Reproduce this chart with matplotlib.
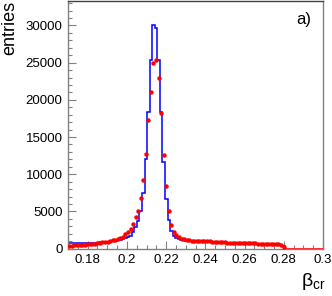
import numpy as np
import matplotlib
matplotlib.use("Agg")
import matplotlib.pyplot as plt
from matplotlib.ticker import MultipleLocator

plt.rcParams["font.family"] = ["Liberation Sans", "DejaVu Sans"]
plt.rcParams["mathtext.fontset"] = "custom"
plt.rcParams["mathtext.rm"] = "Liberation Sans"
plt.rcParams["mathtext.it"] = "Liberation Sans"

# histogram binning: 100 bins between 0.17 and 0.30
n_bins = 100
x_lo = 0.17
x_hi = 0.30

# blue histogram (simulation)
blue_counts = [
    700, 710, 720, 730, 740, 750, 760, 770, 780, 790, 800,
    810, 830, 850, 870, 900, 940, 990, 1050, 1120, 1200,
    1300, 1450, 1600, 1750, 2200, 2900, 3700, 5000, 7500, 12000,
    18400, 25300, 30000, 29700, 25300, 18300, 11600, 6700, 3800, 2400,
    1750, 1400, 1250, 1170, 1120, 1080, 1050, 1030, 1010, 1000,
    990, 970, 960, 940, 920, 900, 880, 860, 840, 820,
    800, 790, 780, 770, 760, 750, 740, 730, 720, 710,
    690, 680, 670, 660, 650, 640, 630, 620, 610, 600,
    590, 570, 540, 320,
    0, 0, 0, 0, 0, 0, 0, 0, 0, 0, 0, 0, 0, 0, 0,
]

# red points (data)
red_counts = [
    400, 420, 440, 460, 480, 500, 530, 560, 590, 630, 680,
    740, 800, 850, 900, 940, 1030, 1120, 1210, 1340, 1430,
    1600, 1970, 2200, 2600, 3320, 4300, 5000, 6800, 9200, 12760,
    17300, 21000, 24900, 25300, 23000, 18200, 12650, 8400, 5000, 3200,
    2290, 1800, 1500, 1340, 1250, 1170, 1120, 1090, 1070, 1050,
    1030, 1010, 1000, 980, 960, 940, 920, 900, 880, 860,
    840, 820, 810, 800, 790, 780, 770, 760, 750, 740,
    720, 710, 700, 690, 680, 670, 660, 650, 640, 630,
    610, 590, 550, 250,
    0, 0, 0, 0, 0, 0, 0, 0, 0, 0, 0, 0, 0, 0, 0,
]

edges = np.linspace(x_lo, x_hi, n_bins + 1)
centers = 0.5 * (edges[:-1] + edges[1:])
blue = np.array(blue_counts, dtype=float)
red = np.array(red_counts, dtype=float)

fig = plt.figure(figsize=(3.32, 2.96), dpi=100)
ax = fig.add_axes([0.205, 0.16, 0.768, 0.837])

ax.stairs(blue, edges, color="#0000ff", lw=1.1, zorder=2)

# zero bins of the red histogram show as a line at 0
zero = red == 0
ax.hlines(np.zeros(zero.sum()), edges[:-1][zero], edges[1:][zero],
          color="#ff3030", lw=1.4, zorder=3)
ax.plot(centers[~zero], red[~zero], "o", color="#ff0000", ms=3.2,
        mec="none", zorder=4)

ax.set_xlim(x_lo, x_hi)
ax.set_ylim(0, 33300)

ax.xaxis.set_major_locator(MultipleLocator(0.02))
ax.xaxis.set_minor_locator(MultipleLocator(0.005))
ax.yaxis.set_major_locator(MultipleLocator(5000))
ax.yaxis.set_minor_locator(MultipleLocator(1000))
ax.set_xticks([0.18, 0.2, 0.22, 0.24, 0.26, 0.28, 0.3])
ax.set_xticklabels(["0.18", "0.2", "0.22", "0.24", "0.26", "0.28", "0.3"])

ax.tick_params(which="both", direction="in", colors="#808080",
               labelcolor="black", labelsize=9.5, width=0.8)
ax.tick_params(which="major", length=6, pad=4)
ax.tick_params(which="minor", length=3)
for side in ["left", "bottom", "right"]:
    ax.spines[side].set_color("#808080")
ax.spines["top"].set_color("#404040")
for s in ax.spines.values():
    s.set_linewidth(1.0)

fig.text(0.004, 0.998, "entries", rotation=90, ha="left", va="top",
         fontsize=13)
fig.text(0.908, 0.012, r"$\beta_{\mathrm{cr}}$", ha="left", va="bottom",
         fontsize=14)
ax.text(0.955, 0.955, "a)", transform=ax.transAxes, ha="right", va="top",
        fontsize=12)

fig.savefig("out.png", dpi=100)
